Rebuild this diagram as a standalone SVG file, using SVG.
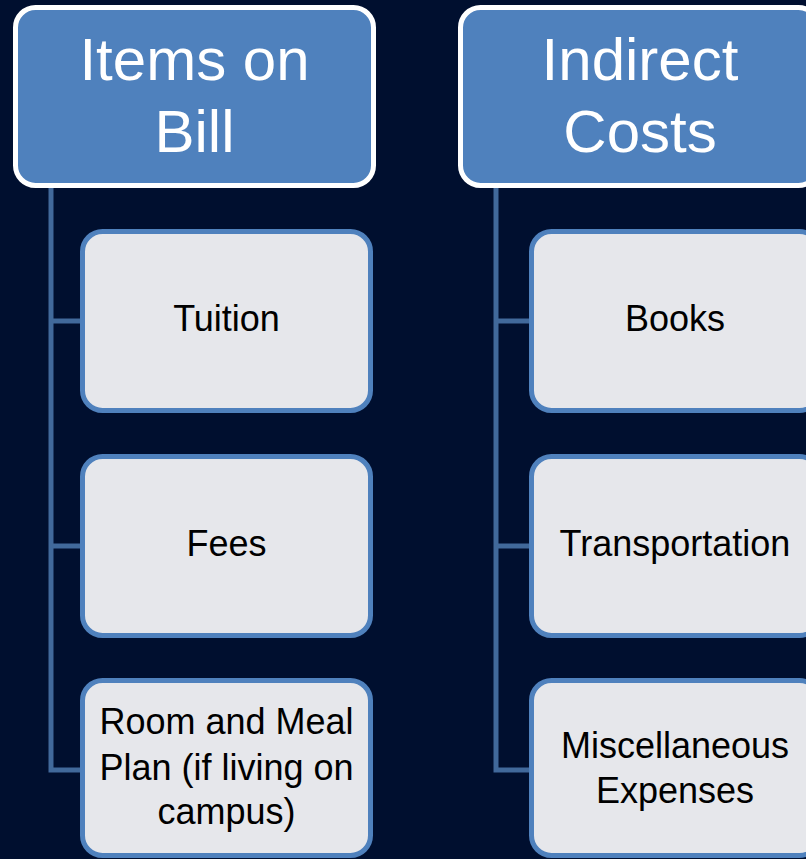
<svg xmlns="http://www.w3.org/2000/svg" width="806" height="859" viewBox="0 0 806 859">
  <style>
    .head rect { fill: #4f81bd; stroke: #ffffff; stroke-width: 5; }
    .head text { fill: #ffffff; font-family: "Liberation Sans", Arial, sans-serif; font-size: 60px; text-anchor: middle; }
    .item rect { fill: #e6e7eb; stroke: #4f81bd; stroke-width: 5; }
    .item text { fill: #000000; font-family: "Liberation Sans", Arial, sans-serif; font-size: 36px; text-anchor: middle; }
    .conn path { fill: none; stroke: #41699b; stroke-width: 5; }
  </style>
  <rect width="806" height="859" fill="#000f2f"/>

  <!-- tree connectors -->
  <g id="connectors" class="conn">
    <path d="M51 188 V770 H82 M51 321 H82 M51 546 H82"/>
    <path d="M496 188 V770 H531 M496 321 H531 M496 546 H531"/>
  </g>

  <!-- column 1: items on bill -->
  <g id="items-on-bill" class="head">
    <rect x="15.5" y="7.5" width="358" height="178" rx="20"/>
    <text x="194.5" y="80">Items on</text>
    <text x="194.5" y="152">Bill</text>
  </g>
  <g id="tuition" class="item">
    <rect x="82.5" y="231.5" width="288" height="179" rx="20"/>
    <text x="226.5" y="331">Tuition</text>
  </g>
  <g id="fees" class="item">
    <rect x="82.5" y="456.5" width="288" height="179" rx="20"/>
    <text x="226.5" y="556">Fees</text>
  </g>
  <g id="room-and-meal" class="item">
    <rect x="82.5" y="680.5" width="288" height="175" rx="20"/>
    <text x="226.5" y="734">Room and Meal</text>
    <text x="226.5" y="780">Plan (if living on</text>
    <text x="226.5" y="824">campus)</text>
  </g>

  <!-- column 2: indirect costs -->
  <g id="indirect-costs" class="head">
    <rect x="460.5" y="7.5" width="358" height="178" rx="20"/>
    <text x="640" y="80">Indirect</text>
    <text x="640" y="152">Costs</text>
  </g>
  <g id="books" class="item">
    <rect x="531.5" y="231.5" width="288" height="179" rx="20"/>
    <text x="675" y="331">Books</text>
  </g>
  <g id="transportation" class="item">
    <rect x="531.5" y="456.5" width="288" height="179" rx="20"/>
    <text x="675" y="556">Transportation</text>
  </g>
  <g id="miscellaneous" class="item">
    <rect x="531.5" y="680.5" width="288" height="175" rx="20"/>
    <text x="675" y="758">Miscellaneous</text>
    <text x="675" y="803">Expenses</text>
  </g>
</svg>
